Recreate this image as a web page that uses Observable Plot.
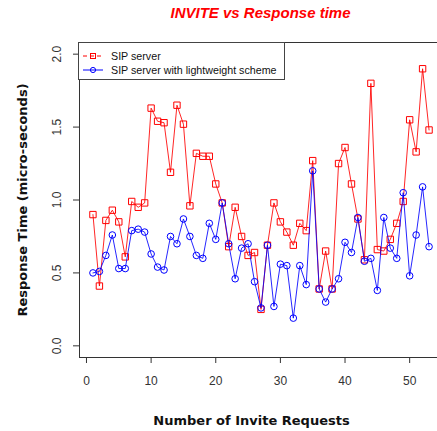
<!DOCTYPE html>
<html><head><meta charset="utf-8">
<script src="https://cdn.jsdelivr.net/npm/d3@7"></script>
<script src="https://cdn.jsdelivr.net/npm/@observablehq/plot@0.6"></script>
<style>
html,body{margin:0;padding:0;background:#fff;overflow:hidden}
#wrap{position:relative;width:437px;height:431px}
#legend{position:absolute;left:78px;top:42px;width:207px;height:38px;border:1px solid #444;box-sizing:border-box;background:#fff;font:10.7px "Liberation Sans",Arial,sans-serif;color:#111}
#legend .row{position:absolute;left:0;height:14px;line-height:14px;white-space:nowrap}
#legend svg{position:absolute;left:3px;top:1px}
#legend span{position:absolute;left:32px;top:0}
</style></head><body><div id="wrap"></div>
<script>
const requests = [1,2,3,4,5,6,7,8,9,10,11,12,13,14,15,16,17,18,19,20,21,22,23,24,25,26,27,28,29,30,31,32,33,34,35,36,37,38,39,40,41,42,43,44,45,46,47,48,49,50,51,52,53];
const sipServer = [0.90,0.41,0.86,0.93,0.85,0.61,0.99,0.95,0.98,1.63,1.54,1.53,1.19,1.65,1.52,0.96,1.32,1.30,1.30,1.11,0.98,0.68,0.95,0.75,0.62,0.64,0.25,0.69,0.98,0.85,0.78,0.69,0.84,0.79,1.27,0.39,0.65,0.39,1.25,1.36,1.11,0.87,0.59,1.80,0.66,0.65,0.73,0.84,0.99,1.55,1.33,1.90,1.48];
const lightweight = [0.50,0.51,0.62,0.76,0.53,0.53,0.79,0.80,0.78,0.63,0.54,0.52,0.75,0.70,0.87,0.75,0.62,0.60,0.84,0.73,0.98,0.70,0.46,0.67,0.70,0.44,0.26,0.69,0.27,0.56,0.55,0.19,0.55,0.42,1.20,0.39,0.30,0.39,0.46,0.71,0.64,0.88,0.58,0.60,0.38,0.88,0.67,0.60,1.05,0.48,0.76,1.09,0.68];
const seriesNames = ["SIP server", "SIP server with lightweight scheme"];
const seriesColors = ["#ff0000", "#0000ff"];
const xTicks = [0, 10, 20, 30, 40, 50];
const yTicks = [0.0, 0.5, 1.0, 1.5, 2.0];
const titleText = "INVITE vs Response time";
const xLabel = "Number of Invite Requests";
const yLabel = "Response Time (micro-seconds)";

const redData = requests.map((x, i) => ({x, y: sipServer[i]}));
const blueData = requests.map((x, i) => ({x, y: lightweight[i]}));

const xDomain = [-1.08, 55.08];
const yDomain = [-0.08, 2.08];

const chart = Plot.plot({
  width: 437, height: 431,
  marginLeft: 79, marginRight: 0, marginTop: 42, marginBottom: 74,
  x: {domain: xDomain, range: [79, 442]},
  y: {domain: yDomain},
  style: {fontFamily: "'Liberation Sans', Arial, sans-serif", fontSize: "12px", color: "#333", background: "#fff", overflow: "visible"},
  marks: [
    Plot.ruleY([yDomain[0], yDomain[1]], {stroke: "#333", strokeWidth: 1}),
    Plot.ruleX([xDomain[0]], {stroke: "#333", strokeWidth: 1}),
    Plot.axisX(xTicks, {tickSize: 6, tickPadding: 13, label: null, stroke: "#333", fontSize: 12, fill: "#333"}),
    Plot.axisY(yTicks, {tickSize: 6, tickPadding: 13, tickRotate: -90, tickFormat: d3.format(".1f"), label: null, stroke: "#333", fontSize: 12, fill: "#333"}),
    Plot.line(redData, {x: "x", y: "y", stroke: seriesColors[0], strokeWidth: 1, strokeOpacity: 0.85}),
    Plot.dot(redData, {x: "x", y: "y", symbol: "square", r: 3.6, stroke: seriesColors[0], fill: "none", strokeWidth: 1}),
    Plot.line(blueData, {x: "x", y: "y", stroke: seriesColors[1], strokeWidth: 1, strokeOpacity: 0.85}),
    Plot.dot(blueData, {x: "x", y: "y", symbol: "circle", r: 3.3, stroke: seriesColors[1], fill: "none", strokeWidth: 1}),
    Plot.text([titleText], {text: d => d, frameAnchor: "top", lineAnchor: "middle", dx: 2, dy: -29, fill: "#ff0000", fontWeight: "bold", fontStyle: "italic", fontSize: 15, fontFamily: "'Liberation Sans', Arial, sans-serif"}),
    Plot.text([xLabel], {text: d => d, frameAnchor: "bottom", lineAnchor: "middle", dx: -7, dy: 63, fill: "#111", fontWeight: "bold", fontSize: 13, fontFamily: "'DejaVu Sans', sans-serif"}),
    Plot.text([yLabel], {text: d => d, frameAnchor: "left", textAnchor: "middle", lineAnchor: "middle", rotate: -90, dx: -57, fill: "#111", fontWeight: "bold", fontSize: 13, fontFamily: "'DejaVu Sans', sans-serif"})
  ]
});
const wrap = document.getElementById("wrap");
wrap.appendChild(chart);

// legend overlay
const legend = document.createElement("div");
legend.id = "legend";
seriesNames.forEach((name, i) => {
  const row = document.createElement("div");
  row.className = "row";
  row.style.top = (6 + i * 14) + "px";
  row.style.width = "100%";
  const col = seriesColors[i];
  const sym = i === 0
    ? `<rect x="8.5" y="3.5" width="5" height="5" fill="none" stroke="${col}"/>`
    : `<circle cx="11" cy="6" r="2.6" fill="none" stroke="${col}"/>`;
  const dash = i === 0 ? ` stroke-dasharray="4,3"` : "";
  row.innerHTML = `<svg width="24" height="12"><line x1="1" x2="21" y1="6" y2="6" stroke="${col}"${dash}/>${sym}</svg><span>${name}</span>`;
  legend.appendChild(row);
});
wrap.appendChild(legend);
</script></body></html>
